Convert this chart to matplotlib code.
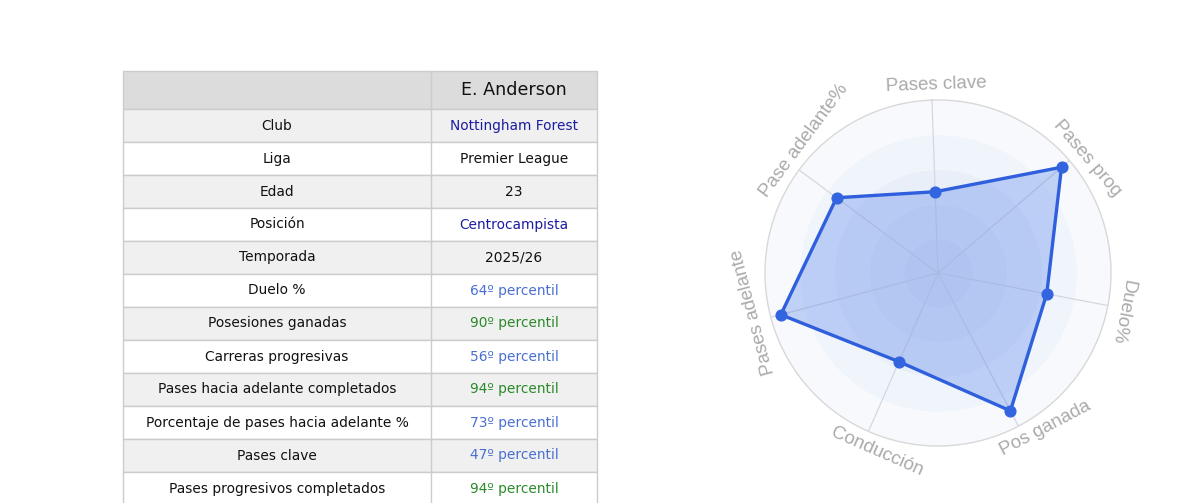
import numpy as np
import matplotlib
matplotlib.use("Agg")
import matplotlib.pyplot as plt
from matplotlib.patches import Rectangle

# --- table data ---
player = "E. Anderson"
info_labels = ["Club", "Liga", "Edad", "Posición", "Temporada"]
info_values = ["Nottingham Forest", "Premier League", "23", "Centrocampista", "2025/26"]
info_colors = ["#1c1ca3", "#111111", "#111111", "#1c1ca3", "#111111"]

stat_labels = ["Duelo %", "Posesiones ganadas", "Carreras progresivas",
               "Pases hacia adelante completados", "Porcentaje de pases hacia adelante %",
               "Pases clave", "Pases progresivos completados"]
stat_pct = [64, 90, 56, 94, 73, 47, 94]

# --- radar data (clockwise from top) ---
radar_labels = ["Pases clave", "Pases prog", "Duelo%", "Pos ganada",
                "Conducción", "Pases adelante", "Pase adelante%"]
radar_values = [47, 94, 64, 90, 56, 94, 73]
label_nudge = [-1.5, -3, -1, 7, 5, -3, -8]   # degrees, mimics the original label placement

W, H = 1200, 503
fig = plt.figure(figsize=(W / 100, H / 100), dpi=100)
fig.patch.set_facecolor("white")

# table drawn in pixel coords
tab = fig.add_axes([0, 0, 1, 1])
tab.set_xlim(0, W)
tab.set_ylim(H, 0)
tab.axis("off")

x0, xm, x1 = 123, 431, 597
header_top, header_h, row_h = 71, 38, 33
border = "#cccccc"
tfont = "DejaVu Sans"

tab.add_patch(Rectangle((x0, header_top), x1 - x0, header_h, facecolor="#dcdcdc",
                        edgecolor=border, lw=1))
tab.text((xm + x1) / 2, header_top + header_h / 2, player, ha="center", va="center",
         fontsize=12.6, color="#111111", family=tfont)

rows = [(l, v, c) for l, v, c in zip(info_labels, info_values, info_colors)]
for l, p in zip(stat_labels, stat_pct):
    c = "#2a8a2a" if p >= 90 else "#4a6fd2"
    rows.append((l, f"{p}º percentil", c))

for i, (lab, val, col) in enumerate(rows):
    y = header_top + header_h + i * row_h
    bg = "#f0f0f0" if i % 2 == 0 else "white"
    tab.add_patch(Rectangle((x0, y), x1 - x0, row_h, facecolor=bg, edgecolor=border, lw=1))
    tab.text((x0 + xm) / 2, y + row_h / 2, lab, ha="center", va="center",
             fontsize=9.9, color="#111111", family=tfont)
    tab.text((xm + x1) / 2, y + row_h / 2, val, ha="center", va="center",
             fontsize=9.9, color=col, family=tfont)
tab.plot([xm, xm], [header_top, H + 5], color=border, lw=1)

# radar
cx, cy, R = 938, 273, 173
ax = fig.add_axes([(cx - R) / W, (H - cy - R) / H, 2 * R / W, 2 * R / H], projection="polar")
ax.set_facecolor("none")
ax.set_theta_offset(np.deg2rad(92))
ax.set_theta_direction(-1)
ax.set_ylim(0, 100)

n = len(radar_labels)
angles = np.arange(n) * 2 * np.pi / n
full = np.linspace(0, 2 * np.pi, 300)

band_colors = ["#dde6f6", "#e3eaf8", "#e9eff9", "#f0f4fb", "#f7f9fd"]
for k, c in enumerate(band_colors):
    ax.fill_between(full, k * 20, (k + 1) * 20, color=c, lw=0, zorder=0)

for a in angles:
    ax.plot([a, a], [0, 100], color="#d4d8de", lw=0.9, zorder=1)

vals = np.array(radar_values + radar_values[:1])
ang = np.concatenate([angles, angles[:1]])
ax.fill(ang, vals, color="#5b87ea", alpha=0.35, lw=0, zorder=2)
ax.plot(ang, vals, color="#2f5fdc", lw=2.4, zorder=3)
ax.scatter(angles, radar_values, s=60, color="#3465e0", zorder=4)

ax.set_xticks([])
ax.set_yticks([])
ax.grid(False)
ax.spines["polar"].set_color("#d8d8d8")
ax.spines["polar"].set_linewidth(1)

for a, lab, nd in zip(angles, radar_labels, label_nudge):
    deg = 92 - np.degrees(a)  # screen angle of the axis
    rot = deg - 90
    if np.sin(np.radians(deg)) < -0.5:
        rot += 180
    pos = np.radians(92 - (deg + nd))
    ax.text(pos, 109, lab, rotation=rot, rotation_mode="anchor", ha="center", va="center",
            fontsize=13.5, color="#aaaaaa", family="Liberation Sans", clip_on=False)

fig.savefig("out.png", dpi=100)
